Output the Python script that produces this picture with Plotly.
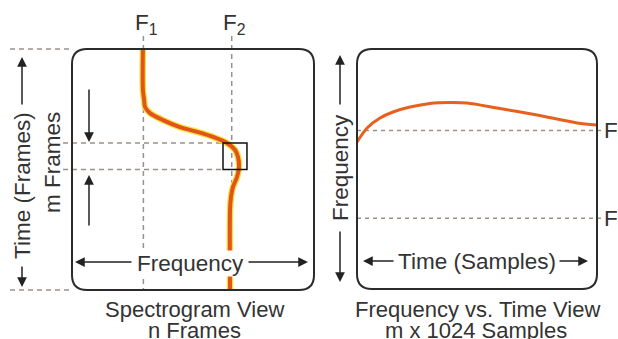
import plotly.graph_objects as go

# ----------------- data ----------------- #
# frequency scale shared by both panels (0-100), the two marked frequencies
F1 = 29.5
F2 = 66

# spectrogram view: ridge frequency per frame (frames 0-100, top to bottom)
spec_frame = [0, 17, 21.2, 24.1, 26.6, 29.5, 32.4, 34.4, 36.5, 39.0, 41.9, 44.8,
              49.0, 53.1, 57.3, 61.4, 66.8, 100]
spec_freq = [29.3, 29.3, 29.8, 30.2, 32.2, 37.6, 44.6, 51.7, 58.3, 64.0, 67.4, 68.6,
             69.0, 68.2, 66.5, 65.7, 65.3, 65.3]

# analysis window (m frames) marked by the small box
win_start = 39
win_end = 50
win_freq = [62.4, 72.3]

# frequency vs time view (time 0-100 across the window)
ft_time = [0, 4.2, 9.6, 15, 22.1, 30.4, 38.75, 45.8, 58.3, 75, 91.7, 100]
ft_freq = [61.25, 67.1, 71.25, 73.75, 75.8, 77.3, 77.7, 77.5, 75.4, 72.5, 69.2, 68.3]

W, H = 618, 339
INK = "#2b2b2b"
TXT = "#333333"
DASH_C = "#9c918a"
FONT = "Liberation Sans, Arial, sans-serif"


def X(px):
    return px / W


def Y(py):
    return 1 - py / H


def rounded_box(x0, y0, x1, y1, r):
    # pixel box -> paper path with rounded corners
    rx, ry = r / W, r / H
    a, b, c, d = X(x0), Y(y0), X(x1), Y(y1)
    return (f"M {a + rx},{b} L {c - rx},{b} Q {c},{b} {c},{b - ry} "
            f"L {c},{d + ry} Q {c},{d} {c - rx},{d} "
            f"L {a + rx},{d} Q {a},{d} {a},{d + ry} "
            f"L {a},{b - ry} Q {a},{b} {a + rx},{b} Z")


fig = go.Figure()

# spectrogram ridge: yellow halo + orange core
fig.add_trace(go.Scatter(x=spec_freq, y=spec_frame, mode="lines", xaxis="x", yaxis="y",
                         line=dict(color="#f4e13a", width=6.5, shape="spline", smoothing=0.8),
                         hoverinfo="skip"))
fig.add_trace(go.Scatter(x=spec_freq, y=spec_frame, mode="lines", xaxis="x", yaxis="y",
                         line=dict(color="#e2541c", width=4, shape="spline", smoothing=0.8),
                         hoverinfo="skip"))
fig.add_trace(go.Scatter(x=ft_time, y=ft_freq, mode="lines", xaxis="x2", yaxis="y2",
                         line=dict(color="#e8601e", width=3, shape="spline", smoothing=0.8),
                         hoverinfo="skip"))

ax_common = dict(visible=False, showgrid=False, zeroline=False, fixedrange=True)
fig.update_layout(
    width=W, height=H,
    margin=dict(l=0, r=0, t=0, b=0),
    paper_bgcolor="white", plot_bgcolor="rgba(0,0,0,0)",
    showlegend=False,
    xaxis=dict(domain=[X(72), X(314)], range=[0, 100], anchor="y", **ax_common),
    yaxis=dict(domain=[Y(290), Y(49)], range=[100, 0], anchor="x", **ax_common),
    xaxis2=dict(domain=[X(357), X(597)], range=[0, 100], anchor="y2", **ax_common),
    yaxis2=dict(domain=[Y(289), Y(49)], range=[0, 100], anchor="x2", **ax_common),
)

dash = dict(color=DASH_C, width=1.5, dash="5px,4px")
shapes = []
# F1 / F2 guides on spectrogram
for f in (F1, F2):
    shapes.append(dict(type="line", xref="x", yref="paper", x0=f, x1=f, y0=Y(36), y1=Y(291),
                       line=dash, layer="below"))
# window edges
for fr in (win_start, win_end):
    shapes.append(dict(type="line", xref="paper", yref="y", x0=X(63), x1=X(72) + (win_freq[0] / 100) * (X(314) - X(72)),
                       y0=fr, y1=fr, line=dash, layer="below"))
# total time extent marks
for py in (49, 290):
    shapes.append(dict(type="line", xref="paper", yref="paper", x0=X(10), x1=X(70), y0=Y(py), y1=Y(py),
                       line=dash, layer="below"))
# F guides on the frequency vs time view
for f in (F1, F2):
    shapes.append(dict(type="line", xref="paper", yref="y2", x0=X(357), x1=X(602), y0=f, y1=f,
                       line=dict(color=DASH_C, width=1.5, dash="4px,4px"), layer="below"))
# window box
shapes.append(dict(type="rect", xref="x", yref="y", x0=win_freq[0], x1=win_freq[1], y0=win_start, y1=win_end,
                   line=dict(color="#111", width=1.5), layer="above"))
# panel frames
shapes.append(dict(type="path", xref="paper", yref="paper", path=rounded_box(72, 49, 314, 290, 15),
                   line=dict(color=INK, width=2), layer="above"))
shapes.append(dict(type="path", xref="paper", yref="paper", path=rounded_box(357, 49, 597, 289, 15),
                   line=dict(color=INK, width=2), layer="above"))
fig.update_layout(shapes=shapes)

ann = []


def text(s, px, py, size=22.5, angle=0, bg=None, xanchor="center"):
    ann.append(dict(text=s, x=X(px), y=Y(py), xref="paper", yref="paper", showarrow=False,
                    textangle=angle, xanchor=xanchor, yanchor="middle",
                    font=dict(family=FONT, size=size, color=TXT),
                    bgcolor=bg, borderpad=0))


def arrow(hx, hy, tx, ty):
    ann.append(dict(text="", x=X(hx), y=Y(hy), xref="paper", yref="paper", showarrow=True,
                    ax=tx - hx, ay=ty - hy, arrowhead=2, arrowsize=1.3, arrowwidth=1.5,
                    arrowcolor="#222", standoff=0, startstandoff=0))


text("F<sub>1</sub>", 146, 24)
text("F<sub>2</sub>", 234, 24)
text("Time (Frames)", 22, 186, angle=-90)
text("m Frames", 52, 163, angle=-90)
text("Frequency", 190, 263, bg="white")
text("Spectrogram View", 194, 309, size=22)
text("n Frames", 194, 330, size=22)
text("Frequency", 340, 168, angle=-90)
text("Time (Samples)", 477, 261)
text("Frequency vs. Time View", 477, 309, size=22)
text("m x 1024 Samples", 476, 330, size=22)
text("F<sub>2</sub>", 603, 132, xanchor="left")
text("F<sub>1</sub>", 603, 220, xanchor="left")

arrow(22, 57, 22, 106)
arrow(22, 287, 22, 265)
arrow(89, 142, 89, 88)
arrow(89, 175, 89, 227)
arrow(75, 262, 133, 262)
arrow(308, 262, 247, 262)
arrow(340, 55, 340, 106)
arrow(340, 282, 340, 230)
arrow(363, 261, 395, 261)
arrow(588, 261, 558, 261)
fig.update_layout(annotations=ann)

# page body has a default margin; drop it so the figure fills the window
fig.write_html("out.html", config={"displayModeBar": False},
               post_script="document.body.style.margin='0px';")
